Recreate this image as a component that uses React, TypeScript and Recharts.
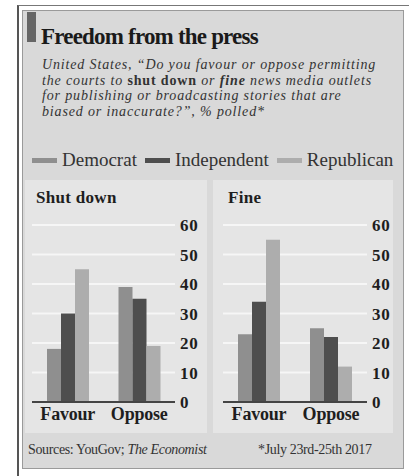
import React from "react";
import { Bar, BarChart, CartesianGrid, XAxis, YAxis } from "recharts";

const categories = ["Favour", "Oppose"];
const seriesNames = ["Democrat", "Independent", "Republican"];
const seriesColors = ["#8f8f8f", "#4e4e4e", "#adadad"];

const shutDownDemocrat = [18, 39];
const shutDownIndependent = [30, 35];
const shutDownRepublican = [45, 19];

const fineDemocrat = [23, 25];
const fineIndependent = [34, 22];
const fineRepublican = [55, 12];

const yTicks = [0, 10, 20, 30, 40, 50, 60];

const SERIF = "'Liberation Serif', 'DejaVu Serif', serif";

function buildRows(d: number[], i: number[], r: number[]) {
  return categories.map((cat, k) => ({
    cat,
    Democrat: d[k],
    Independent: i[k],
    Republican: r[k],
  }));
}

const shutDownRows = buildRows(shutDownDemocrat, shutDownIndependent, shutDownRepublican);
const fineRows = buildRows(fineDemocrat, fineIndependent, fineRepublican);

type PanelProps = {
  title: string;
  rows: ReturnType<typeof buildRows>;
  left: number;
  width: number;
  plotLeft: number;
  axisWidth: number;
  titleLeft: number;
};

function Panel({ title, rows, left, width, plotLeft, axisWidth, titleLeft }: PanelProps) {
  return (
    <div style={{ position: "absolute", left, top: 180, width, height: 253, background: "#e5e5e5" }}>
      <div
        style={{
          position: "absolute",
          left: titleLeft,
          top: 8,
          fontFamily: SERIF,
          fontWeight: "bold",
          fontSize: 17,
          letterSpacing: 0.3,
          color: "#1e1e1e",
        }}
      >
        {title}
      </div>
      <BarChart
        width={width}
        height={253}
        data={rows}
        margin={{ top: 45, right: 0, left: plotLeft, bottom: 0 }}
        barCategoryGap={15}
        barGap={0}
      >
        <CartesianGrid vertical={false} stroke="#f6f6f6" strokeWidth={2} />
        <XAxis
          dataKey="cat"
          height={31}
          tickLine={false}
          tickSize={0}
          tickMargin={5}
          axisLine={{ stroke: "#444", strokeWidth: 2 }}
          tick={{ fontFamily: SERIF, fontWeight: "bold", fontSize: 18, fill: "#1e1e1e", letterSpacing: -0.2 }}
        />
        <YAxis
          orientation="right"
          width={axisWidth}
          domain={[0, 60]}
          ticks={yTicks}
          axisLine={false}
          tickLine={false}
          tickSize={0}
          tickMargin={5}
          tick={{ fontFamily: SERIF, fontWeight: "bold", fontSize: 17, fill: "#1e1e1e", letterSpacing: 0.8 }}
        />
        {seriesNames.map((s, k) => (
          <Bar key={s} dataKey={s} fill={seriesColors[k]} isAnimationActive={false} />
        ))}
      </BarChart>
    </div>
  );
}

export default function App() {
  return (
    <div style={{ position: "absolute", left: 0, top: 0, width: 409, height: 476, background: "#fff", overflow: "hidden" }}>
      {/* outer frame lines */}
      <div style={{ position: "absolute", left: 17, top: 5, width: 392, height: 471, borderLeft: "2px solid #555", borderTop: "1px solid #777" }} />
      {/* inner grey box */}
      <div
        style={{
          position: "absolute",
          left: 22,
          top: 10,
          width: 380,
          height: 457,
          background: "#d9d9d9",
          border: "1px solid #9a9a9a",
        }}
      />
      <div style={{ position: "absolute", left: 27, top: 12, width: 9, height: 30, background: "#666" }} />
      <div
        style={{
          position: "absolute",
          left: 41,
          top: 24,
          fontFamily: SERIF,
          fontWeight: "bold",
          fontSize: 23,
          letterSpacing: -0.8,
          color: "#1a1a1a",
          lineHeight: "26px",
        }}
      >
        Freedom from the press
      </div>
      <div
        style={{
          position: "absolute",
          left: 42,
          top: 57,
          width: 360,
          fontFamily: SERIF,
          fontStyle: "italic",
          fontSize: 14,
          letterSpacing: 0.85,
          lineHeight: "15.5px",
          color: "#333",
          whiteSpace: "nowrap",
        }}
      >
        <div>United States, “Do you favour or oppose permitting</div>
        <div>
          the courts to <b style={{ fontStyle: "normal" }}>shut down</b> or <b>fine</b> news media outlets
        </div>
        <div>for publishing or broadcasting stories that are</div>
        <div>biased or inaccurate?”, % polled*</div>
      </div>
      {/* legend */}
      <div style={{ position: "absolute", left: 32, top: 149, display: "flex", alignItems: "center", height: 22 }}>
        {seriesNames.map((s, k) => (
          <div key={s} style={{ display: "flex", alignItems: "center", marginRight: 8 }}>
            <div style={{ width: 25, height: 5, background: seriesColors[k], marginRight: 5 }} />
            <span style={{ fontFamily: SERIF, fontSize: 19, color: "#333", letterSpacing: 0 }}>{s}</span>
          </div>
        ))}
      </div>
      <Panel title="Shut down" rows={shutDownRows} left={25} width={182} plotLeft={7} axisWidth={32} titleLeft={11} />
      <Panel title="Fine" rows={fineRows} left={213} width={180} plotLeft={10} axisWidth={26} titleLeft={15} />
      <div
        style={{
          position: "absolute",
          left: 28,
          top: 442,
          fontFamily: SERIF,
          fontSize: 14,
          letterSpacing: -0.35,
          color: "#333",
        }}
      >
        Sources: YouGov; <i>The Economist</i>
      </div>
      <div
        style={{
          position: "absolute",
          left: 258,
          top: 442,
          fontFamily: SERIF,
          fontSize: 14,
          letterSpacing: -0.35,
          color: "#333",
        }}
      >
        *July 23rd-25th 2017
      </div>
    </div>
  );
}
